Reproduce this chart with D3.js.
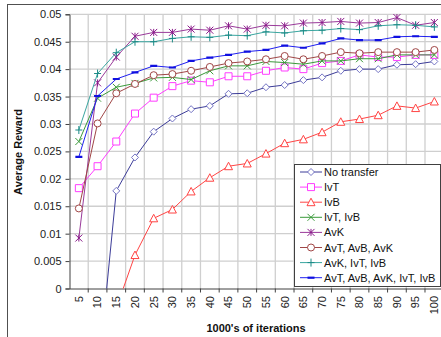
<!DOCTYPE html>
<html><head><meta charset="utf-8">
<script src="https://cdn.jsdelivr.net/npm/d3@7"></script>
<style>
html,body{margin:0;padding:0;background:#fff;}
svg{display:block;font-family:"Liberation Sans",Arial,sans-serif;}
</style></head>
<body><svg id="c" width="441" height="337"></svg>
<script>
const categories = ["5","10","15","20","25","30","35","40","45","50","55","60","65","70","75","80","85","90","95","100"];
const yTickValues = [0,0.005,0.01,0.015,0.02,0.025,0.03,0.035,0.04,0.045,0.05];
const yTickLabels = ["0","0.005","0.01","0.015","0.02","0.025","0.03","0.035","0.04","0.045","0.05"];
const seriesNames = ["No transfer","IvT","IvB","IvT, IvB","AvK","AvT, AvB, AvK","AvK, IvT, IvB","AvT, AvB, AvK, IvT, IvB"];
const noTransfer = [-0.04,-0.0169,0.0178,0.0239,0.0286,0.0310,0.0327,0.0333,0.0355,0.0356,0.0367,0.0371,0.0380,0.0385,0.0397,0.0400,0.0400,0.0408,0.0409,0.0414];
const ivT = [0.0183,0.0223,0.0268,0.0319,0.0348,0.0369,0.0379,0.0376,0.0387,0.0387,0.0397,0.0403,0.0400,0.0411,0.0415,0.0426,0.0422,0.0422,0.0426,0.0426];
const ivB = [-0.03,-0.02,-0.0036,0.0061,0.0128,0.0144,0.0177,0.0202,0.0223,0.0228,0.0246,0.0265,0.0272,0.0285,0.0304,0.0309,0.0316,0.0333,0.0329,0.0341];
const ivTivB = [0.0268,0.0347,0.0367,0.0374,0.0384,0.0385,0.0381,0.0397,0.0406,0.0406,0.0414,0.0412,0.0409,0.0415,0.0415,0.0419,0.0419,0.0426,0.0426,0.0426];
const avK = [0.0092,0.0375,0.0422,0.0460,0.0467,0.0467,0.0473,0.0471,0.0479,0.0473,0.0480,0.0479,0.0484,0.0485,0.0487,0.0484,0.0485,0.0494,0.0480,0.0485];
const avTavBavK = [0.0146,0.0301,0.0356,0.0373,0.0389,0.0391,0.0397,0.0404,0.0411,0.0414,0.0418,0.0424,0.0418,0.0424,0.0431,0.0429,0.0431,0.0431,0.0431,0.0435];
const avKivTivB = [0.0289,0.0392,0.0430,0.0450,0.0450,0.0456,0.0459,0.0458,0.0462,0.0461,0.0468,0.0466,0.0470,0.0471,0.0474,0.0472,0.0479,0.0481,0.0480,0.0477];
const allTransfer = [0.0240,0.0351,0.0382,0.0394,0.0406,0.0403,0.0415,0.0421,0.0426,0.0432,0.0435,0.0443,0.0439,0.0447,0.0456,0.0453,0.0453,0.0459,0.0460,0.0459];

const seriesValues = [noTransfer, ivT, ivB, ivTivB, avK, avTavBavK, avKivTivB, allTransfer];
const styles = [
  {line:"#3c3c98", mark:"#7474c4", shape:"diamond"},
  {line:"#ff3cff", mark:"#ff3cff", shape:"square"},
  {line:"#ff4444", mark:"#ff4444", shape:"triangle"},
  {line:"#3a9a3a", mark:"#3a9a3a", shape:"x"},
  {line:"#9a3a9a", mark:"#8a1a8a", shape:"star"},
  {line:"#a04646", mark:"#a04646", shape:"circle"},
  {line:"#3aa6a0", mark:"#1a8a86", shape:"plus"},
  {line:"#2020f0", mark:"#1010e0", shape:"dash"}
];

const svg = d3.select("#c");
const L = 69.5, R = 443.7, T = 14.3, B = 288.5;
const x = d3.scaleBand().domain(categories).range([L, R]).padding(0);
const y = d3.scaleLinear().domain([0, 0.05]).range([B, T]);

// outer chart border
svg.append("rect").attr("x",7.5).attr("y",4.5).attr("width",460).attr("height",360)
  .attr("fill","none").attr("stroke","#505050").attr("stroke-width",1);

// gridlines
const grid = svg.append("g");
grid.selectAll("line.h").data(yTickValues.slice(1)).enter().append("line")
  .attr("x1",L).attr("x2",R).attr("y1",d=>y(d)).attr("y2",d=>y(d))
  .attr("stroke","#cfcfcf").attr("stroke-width",1.3);
grid.selectAll("line.v").data(categories.slice(1)).enter().append("line")
  .attr("x1",d=>x(d)).attr("x2",d=>x(d)).attr("y1",T).attr("y2",B)
  .attr("stroke","#cfcfcf").attr("stroke-width",1.3);

// y axis
const yAxis = d3.axisLeft(y).tickValues(yTickValues).tickFormat((d,i)=>yTickLabels[i]).tickSize(4).tickPadding(4);
const gy = svg.append("g").attr("transform",`translate(${L},0)`).call(yAxis);
gy.select(".domain").attr("stroke","#404040");
gy.selectAll(".tick line").attr("stroke","#404040");
gy.selectAll("text").attr("font-size","11px").attr("fill","#222").attr("font-family","Liberation Sans, Arial, sans-serif");

// x axis
const xAxis = d3.axisBottom(x).tickSize(0).tickSizeOuter(0);
const gx = svg.append("g").attr("transform",`translate(0,${B})`).call(xAxis);
gx.select(".domain").attr("stroke","#404040");
gx.selectAll("text").attr("font-size","11px").attr("fill","#222").attr("font-family","Liberation Sans, Arial, sans-serif")
  .attr("text-anchor","end").attr("x",-7.5).attr("y",0).attr("dy","0.35em").attr("transform","rotate(-90)");
svg.append("g").selectAll("line").data(categories.slice(1)).enter().append("line")
  .attr("x1",d=>x(d)).attr("x2",d=>x(d)).attr("y1",B).attr("y2",B+4).attr("stroke","#404040");

// axis titles
svg.append("text").attr("x",256).attr("y",332).attr("text-anchor","middle")
  .attr("font-size","11px").attr("font-weight","bold").attr("fill","#111").text("1000's of iterations");
svg.append("text").attr("transform","translate(22,152) rotate(-90)").attr("text-anchor","middle")
  .attr("font-size","11px").attr("font-weight","bold").attr("fill","#111").text("Average Reward");

// clip
svg.append("clipPath").attr("id","pc").append("rect").attr("x",L).attr("y",T-6).attr("width",R-L).attr("height",B-T+6);

function markerPath(shape){
  const r = 3.5;
  switch(shape){
    case "diamond": return `M0,${-r}L${r},0L0,${r}L${-r},0Z`;
    case "square": return `M${-r},${-r}H${r}V${r}H${-r}Z`;
    case "triangle": return `M0,${-r-0.5}L${r+0.5},${r}L${-r-0.5},${r}Z`;
    case "circle": return `M${r},0A${r},${r} 0 1,1 ${-r},0A${r},${r} 0 1,1 ${r},0Z`;
    case "x": return `M${-r},${-r}L${r},${r}M${-r},${r}L${r},${-r}`;
    case "star": return `M${-r},${-r}L${r},${r}M${-r},${r}L${r},${-r}M0,${-r}V${r}`;
    case "plus": return `M0,${-r-0.5}V${r+0.5}M${-r},0H${r}`;
    case "dash": return `M${-r},0H${r}`;
  }
}

const line = d3.line().x((d,i)=>x(categories[i])+x.bandwidth()/2).y(d=>y(d));
const plot = svg.append("g").attr("clip-path","url(#pc)");
seriesValues.forEach((vals,si)=>{
  const st = styles[si];
  const g = plot.append("g");
  g.append("path").datum(vals).attr("d",line).attr("fill","none").attr("stroke",st.line).attr("stroke-width",1);
  const filled = (st.shape==="diamond"||st.shape==="square"||st.shape==="triangle"||st.shape==="circle");
  g.selectAll("path.m").data(vals.map((v,i)=>({v,i})).filter(d=>d.v>=0)).enter().append("path")
    .attr("transform",d=>`translate(${x(categories[d.i])+x.bandwidth()/2},${y(d.v)})`)
    .attr("d",markerPath(st.shape))
    .attr("fill",filled?"#fff":"none").attr("stroke",st.mark)
    .attr("stroke-width",st.shape==="dash"?2.2:1);
});

// legend
const lg = svg.append("g");
lg.append("rect").attr("x",294.5).attr("y",164.5).attr("width",146).attr("height",122)
  .attr("fill","#fff").attr("stroke","#404040").attr("stroke-width",1);
seriesNames.forEach((name,i)=>{
  const st = styles[i];
  const cy = 172 + i*15.1;
  lg.append("line").attr("x1",300).attr("x2",322).attr("y1",cy).attr("y2",cy).attr("stroke",st.line).attr("stroke-width",1);
  const filled = (st.shape==="diamond"||st.shape==="square"||st.shape==="triangle"||st.shape==="circle");
  lg.append("path").attr("transform",`translate(311,${cy})`).attr("d",markerPath(st.shape))
    .attr("fill",filled?"#fff":"none").attr("stroke",st.mark).attr("stroke-width",st.shape==="dash"?2.2:1);
  lg.append("text").attr("x",324).attr("y",cy+4).attr("font-size","11px").attr("fill","#111").text(name);
});
</script></body></html>
